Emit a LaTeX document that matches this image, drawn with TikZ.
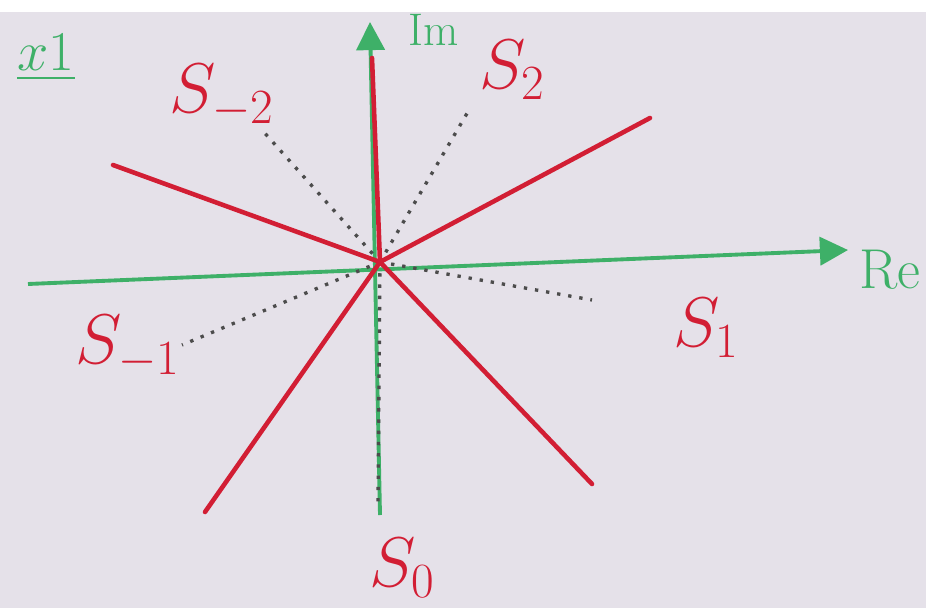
\documentclass[tikz,border=0pt]{standalone}
\usepackage{fix-cm}
\usepackage{amsmath,amssymb}
\usepackage{xcolor}
\usepackage{tikz}
\usetikzlibrary{arrows.meta}
\definecolor{boardgray}{RGB}{229,225,233}
\definecolor{markergreen}{RGB}{62,176,104}
\definecolor{markerred}{RGB}{210,30,52}

\begin{document}
\begin{tikzpicture}[
  x=0.02cm, y=-0.02cm,
  axis/.style={markergreen, line width=2.2pt, -{Triangle[length=16pt, width=16pt]}},
  ray/.style={markerred, line width=2.6pt, line cap=round},
  bisect/.style={black!70, line width=1.9pt, dash pattern=on 1.9pt off 4.5pt},
  sector/.style={markerred, font=\fontsize{40}{40}\selectfont},
  axlabel/.style={markergreen, font=\fontsize{32}{32}\selectfont}
]

\useasboundingbox (0,0) rectangle (926,608);
\fill[white] (0,0) rectangle (926,12);
\fill[boardgray] (0,12) rectangle (926,608);

\coordinate (o) at (380,262);

% axes
\coordinate (reW) at (28,284);
\coordinate (reE) at (848,250);
\coordinate (imS) at (380,515);
\coordinate (imN) at (370,22);
\draw[axis] (reW) -- (reE);
\draw[axis] (imS) -- (imN);
\node[axlabel] (relab) at (890,270) {Re};
\node[axlabel, font=\fontsize{26}{26}\selectfont] (imlab) at (434,30) {Im};
\node[axlabel] (tag) at (46,58) {$\underline{x1}$};

% dotted bisectors
\coordinate (dS2) at (469,110);
\coordinate (dSm2) at (262,130);
\coordinate (dS1) at (592,300);
\coordinate (dSm1) at (182,345);
\coordinate (dS0) at (378,505);
\foreach \e in {dS2,dSm2,dS1,dSm1,dS0}
  \draw[bisect] (o) -- (\e);

% red rays
\coordinate (rN) at (372,58);
\coordinate (rNW) at (113,165);
\coordinate (rNE) at (650,118);
\coordinate (rSW) at (205,512);
\coordinate (rSE) at (592,484);
\foreach \e in {rN,rNW,rNE,rSW,rSE}
  \draw[ray] (o) -- (\e);

% sectors
\node[sector] (sm2) at (222,96) {$S_{-2}$};
\node[sector] (s2) at (512,70) {$S_{2}$};
\node[sector] (sm1) at (128,347) {$S_{-1}$};
\node[sector] (s1) at (706,328) {$S_{1}$};
\node[sector] (s0) at (402,568) {$S_{0}$};
\end{tikzpicture}
\end{document}
